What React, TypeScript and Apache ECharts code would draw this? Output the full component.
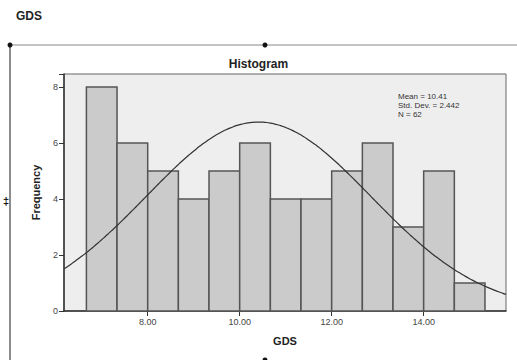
import React, { useEffect, useRef } from "react";
import * as echarts from "echarts";

const binEdges = [6.667, 7.333, 8.0, 8.667, 9.333, 10.0, 10.667, 11.333, 12.0, 12.667, 13.333, 14.0, 14.667, 15.333];
const counts = [8, 6, 5, 4, 5, 6, 4, 4, 5, 6, 3, 5, 1];
const xTicks = [8, 10, 12, 14];
const yTicks = [0, 2, 4, 6, 8];
const MEAN = 10.41;
const STD = 2.442;
const N = 62;
const X_MIN = 6.18;
const X_MAX = 15.79;
const Y_MAX = 8.46;

export default function App() {
  const ref = useRef<HTMLDivElement>(null);
  useEffect(() => {
    if (!ref.current) return;
    const chart = echarts.init(ref.current, null, { renderer: "svg" });
    const binW = binEdges[1] - binEdges[0];
    const bars = counts.map((c, i) => [binEdges[i], binEdges[i + 1], c]);
    const curve: number[][] = [];
    const steps = 120;
    for (let i = 0; i <= steps; i++) {
      const x = X_MIN + ((X_MAX - X_MIN) * i) / steps;
      const y = (N * binW) / (STD * Math.sqrt(2 * Math.PI)) * Math.exp(-((x - MEAN) ** 2) / (2 * STD * STD));
      curve.push([x, y]);
    }
    const font = "Liberation Sans, Arial, sans-serif";
    chart.setOption({
      animation: false,
      backgroundColor: "#ffffff",
      grid: {
        left: 64,
        right: 11,
        top: 74,
        bottom: 49,
        show: true,
        backgroundColor: "#eeeeee",
        borderColor: "#666666",
        borderWidth: 1,
      },
      xAxis: {
        type: "value",
        min: X_MIN,
        max: X_MAX,
        name: "GDS",
        nameLocation: "middle",
        nameGap: 24,
        nameTextStyle: { fontFamily: font, fontWeight: "bold", fontSize: 11, color: "#222" },
        axisLine: { lineStyle: { color: "#333", width: 1.5 } },
        axisTick: { show: true, customValues: xTicks, length: 5, inside: false, lineStyle: { color: "#333" } },
        axisLabel: {
          customValues: xTicks,
          formatter: (v: number) => v.toFixed(2),
          fontFamily: font,
          fontSize: 9,
          color: "#444",
          margin: 6,
        },
        splitLine: { show: false },
      },
      yAxis: {
        type: "value",
        min: 0,
        max: Y_MAX,
        interval: 2,
        name: "Frequency",
        nameLocation: "middle",
        nameGap: 23,
        nameTextStyle: { fontFamily: font, fontWeight: "bold", fontSize: 11, color: "#222" },
        axisLine: { show: true, lineStyle: { color: "#333", width: 1.5 } },
        axisTick: { show: true, length: 5, lineStyle: { color: "#333" } },
        axisLabel: {
          customValues: yTicks,
          fontFamily: font,
          fontSize: 9,
          color: "#444",
          margin: 6,
        },
        splitLine: { show: false },
      },
      series: [
        {
          type: "custom",
          data: bars,
          encode: { x: [0, 1], y: 2 },
          renderItem: (params: any, api: any) => {
            const p0 = api.coord([api.value(0), api.value(2)]);
            const p1 = api.coord([api.value(1), 0]);
            return {
              type: "rect",
              shape: { x: p0[0], y: p0[1], width: p1[0] - p0[0], height: p1[1] - p0[1] },
              style: { fill: "#cbcbcb", stroke: "#555555", lineWidth: 1.5 },
            };
          },
          z: 2,
        },
        {
          type: "line",
          data: curve,
          showSymbol: false,
          smooth: true,
          lineStyle: { color: "#333333", width: 1.2 },
          z: 3,
        },
      ],
      graphic: [
        { type: "text", left: 16, top: 10, style: { text: "GDS", fontFamily: font, fontWeight: "bold", fontSize: 12, fill: "#222" } },
        { type: "text", left: "center", top: 58, style: { text: "Histogram", fontFamily: font, fontWeight: "bold", fontSize: 12, fill: "#222" } },
        { type: "line", shape: { x1: 10, y1: 45, x2: 517, y2: 45 }, style: { stroke: "#888", lineWidth: 1 } },
        { type: "line", shape: { x1: 10, y1: 45, x2: 10, y2: 360 }, style: { stroke: "#666", lineWidth: 1.5 } },
        { type: "circle", shape: { cx: 10, cy: 45, r: 2.5 }, style: { fill: "#111" } },
        { type: "circle", shape: { cx: 265, cy: 45, r: 2.5 }, style: { fill: "#111" } },
        { type: "circle", shape: { cx: 265, cy: 360, r: 2.5 }, style: { fill: "#111" } },
        { type: "text", x: 3, y: 195, style: { text: "‡", fontFamily: font, fontWeight: "bold", fontSize: 11, fill: "#111" } },
        {
          type: "text",
          x: 398,
          y: 92,
          style: {
            text: "Mean = " + MEAN.toFixed(2) + "\nStd. Dev. = " + STD.toFixed(3) + "\nN = " + N,
            fontFamily: font,
            fontSize: 8,
            lineHeight: 9,
            fill: "#333",
          },
          z: 10,
        },
      ],
    });
    return () => chart.dispose();
  }, []);
  return <div ref={ref} style={{ position: "fixed", left: 0, top: 0, width: 517, height: 360 }} />;
}
